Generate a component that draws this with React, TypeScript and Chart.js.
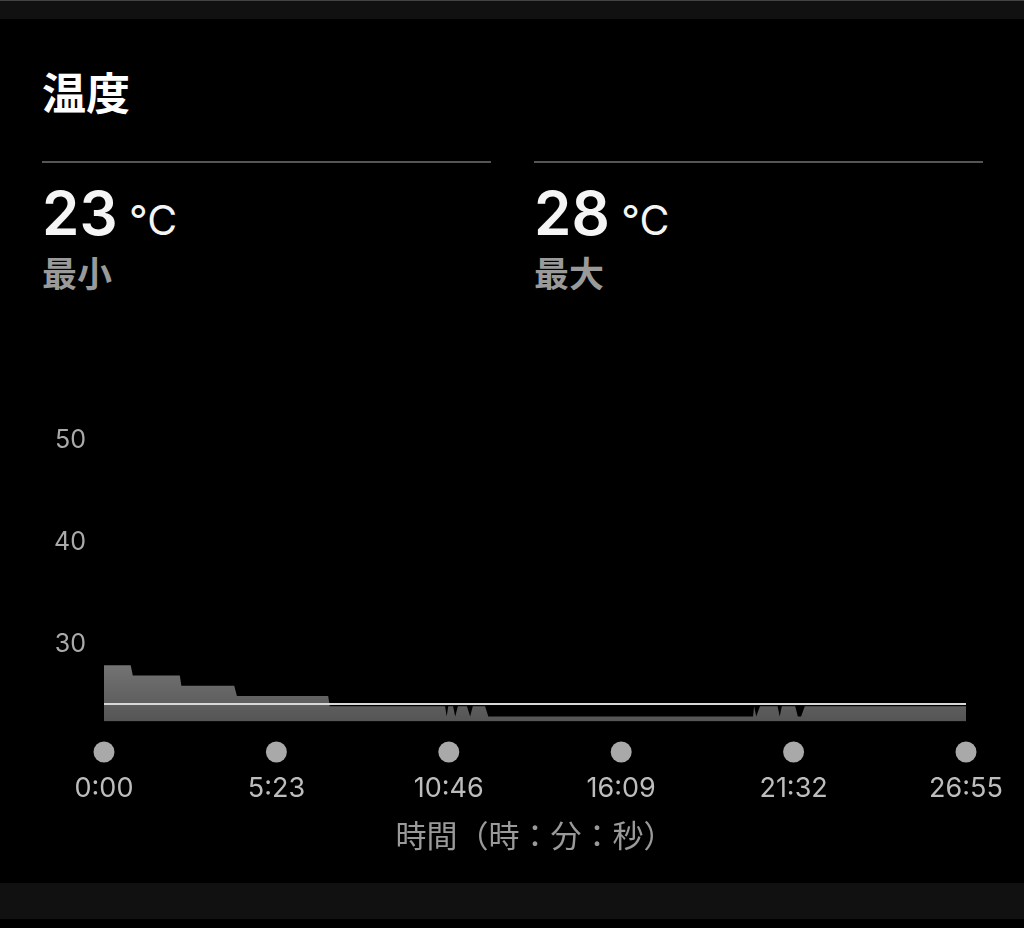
import React, { useEffect, useRef } from "react";
import { Chart, registerables } from "chart.js";

Chart.register(...registerables);

// Temperature samples (seconds since start, °C)
const tempSeconds = [0, 50, 54, 142, 145, 244, 249, 420, 423, 639, 642, 645, 654, 658, 663, 680, 686, 691, 714, 720, 1216, 1218, 1222, 1229, 1262, 1266, 1270, 1295, 1300, 1306, 1313, 1615];
const tempValues = [28, 28, 27, 27, 26, 26, 25, 25, 24, 24, 23, 24, 24, 23, 24, 24, 23, 24, 24, 23, 23, 24, 23, 24, 24, 23, 24, 24, 23, 23, 24, 24];

// Average line
const avgSeconds = [0, 1615];
const avgValues = [24.2, 24.2];

// Axis ticks
const xTickSeconds = [0, 323, 646, 969, 1292, 1615];
const yTickValues = [30, 40, 50];

const minTemp = "23";
const maxTemp = "28";

const NUM_FONT = "Inter, 'Noto Sans', 'Noto Sans CJK JP', sans-serif";
const JP_FONT = "'Noto Sans CJK JP', 'Noto Sans', sans-serif";

function fmt(sec: number): string {
  const m = Math.floor(sec / 60);
  const s = Math.round(sec % 60);
  return `${m}:${s < 10 ? "0" : ""}${s}`;
}

const tickDots = {
  id: "tickDots",
  afterDraw(chart: any) {
    const xs = chart.scales.x;
    const ctx = chart.ctx;
    ctx.save();
    ctx.fillStyle = "#a9a9a9";
    xs.ticks.forEach((t: any) => {
      const px = xs.getPixelForValue(t.value);
      ctx.beginPath();
      ctx.arc(px, chart.chartArea.bottom + 30.5, 10.5, 0, Math.PI * 2);
      ctx.fill();
    });
    ctx.restore();
  },
};

function TempChart() {
  const ref = useRef<HTMLCanvasElement | null>(null);
  useEffect(() => {
    if (!ref.current) return;
    const chart = new Chart(ref.current, {
      type: "line",
      data: {
        datasets: [
          {
            label: "平均",
            data: avgSeconds.map((x, i) => ({ x, y: avgValues[i] })),
            borderColor: "#d8d8d8",
            borderWidth: 2,
            pointRadius: 0,
            fill: false,
            order: 0,
          },
          {
            label: "温度",
            data: tempSeconds.map((x, i) => ({ x, y: tempValues[i] })),
            borderWidth: 0,
            borderColor: "rgba(0,0,0,0)",
            pointRadius: 0,
            tension: 0,
            fill: "start",
            order: 1,
            backgroundColor: (c: any) => {
              const ch = c.chart;
              const area = ch.chartArea;
              if (!area) return "#666";
              const top = ch.scales.y.getPixelForValue(28);
              const g = ch.ctx.createLinearGradient(0, top, 0, area.bottom);
              g.addColorStop(0, "#737373");
              g.addColorStop(1, "#555555");
              return g;
            },
          },
        ],
      },
      options: {
        animation: false,
        responsive: false,
        events: [],
        layout: { padding: { top: 20, left: 0, right: 58, bottom: 6.5 } },
        plugins: { legend: { display: false }, tooltip: { enabled: false } },
        scales: {
          x: {
            type: "linear",
            min: 0,
            max: 1615,
            grid: { display: false, drawTicks: false },
            border: { display: false },
            afterBuildTicks: (s: any) => {
              s.ticks = xTickSeconds.map((v) => ({ value: v }));
            },
            afterFit: (s: any) => {
              s.height = 132;
              s.paddingLeft = 0;
              s.paddingRight = 0;
            },
            ticks: {
              padding: 51,
              color: "#bdbdbd",
              font: { family: NUM_FONT, size: 27 },
              maxRotation: 0,
              autoSkip: false,
              callback: (v: any) => fmt(Number(v)),
            },
            title: {
              display: true,
              text: "時間（時：分：秒）",
              color: "#9a9a9a",
              font: { family: JP_FONT, size: 31 },
              padding: { top: 0, bottom: 0 },
            },
          },
          y: {
            min: 22.5,
            max: 50,
            grid: { display: false, drawTicks: false },
            border: { display: false },
            afterBuildTicks: (s: any) => {
              s.ticks = yTickValues.map((v) => ({ value: v }));
            },
            afterFit: (s: any) => {
              s.width = 104;
              s.paddingTop = 0;
              s.paddingBottom = 0;
            },
            ticks: {
              padding: 18,
              color: "#aaaaaa",
              font: { family: NUM_FONT, size: 25 },
            },
          },
        },
      },
      plugins: [tickDots],
    } as any);
    return () => chart.destroy();
  }, []);
  return <canvas ref={ref} width={1024} height={440} style={{ width: 1024, height: 440, display: "block" }} />;
}

function Stat({ left, value, label }: { left: number; value: string; label: string }) {
  return (
    <>
      <div style={{ position: "absolute", left, top: 161, width: 449, height: 2, background: "#555" }} />
      <div
        style={{
          position: "absolute",
          left,
          top: 183,
          lineHeight: 1,
          fontFamily: NUM_FONT,
          color: "#f5f5f5",
          whiteSpace: "nowrap",
        }}
      >
        <span style={{ fontSize: 60, fontWeight: 600 }}>{value}</span>
        <span style={{ fontSize: 41, fontWeight: 400 }}> °C</span>
      </div>
      <div
        style={{
          position: "absolute",
          left,
          top: 254,
          lineHeight: 1,
          fontSize: 35,
          fontWeight: 700,
          fontFamily: JP_FONT,
          color: "#9a9a9a",
        }}
      >
        {label}
      </div>
    </>
  );
}

export default function App() {
  return (
    <div style={{ position: "fixed", left: 0, top: 0, width: 1024, height: 928, background: "#000", overflow: "hidden" }}>
      <div style={{ position: "absolute", left: 0, top: 0, width: 1024, height: 19, background: "#111", borderTop: "1px solid #444", boxSizing: "border-box" }} />
      <div
        style={{
          position: "absolute",
          left: 42,
          top: 69,
          lineHeight: 1,
          fontSize: 44,
          fontWeight: 700,
          fontFamily: JP_FONT,
          color: "#fff",
        }}
      >
        温度
      </div>
      <Stat left={42} value={minTemp} label="最小" />
      <Stat left={534} value={maxTemp} label="最大" />
      <div style={{ position: "absolute", left: 0, top: 420 }}>
        <TempChart />
      </div>
      <div style={{ position: "absolute", left: 0, top: 883, width: 1024, height: 36, background: "#111" }} />
    </div>
  );
}
